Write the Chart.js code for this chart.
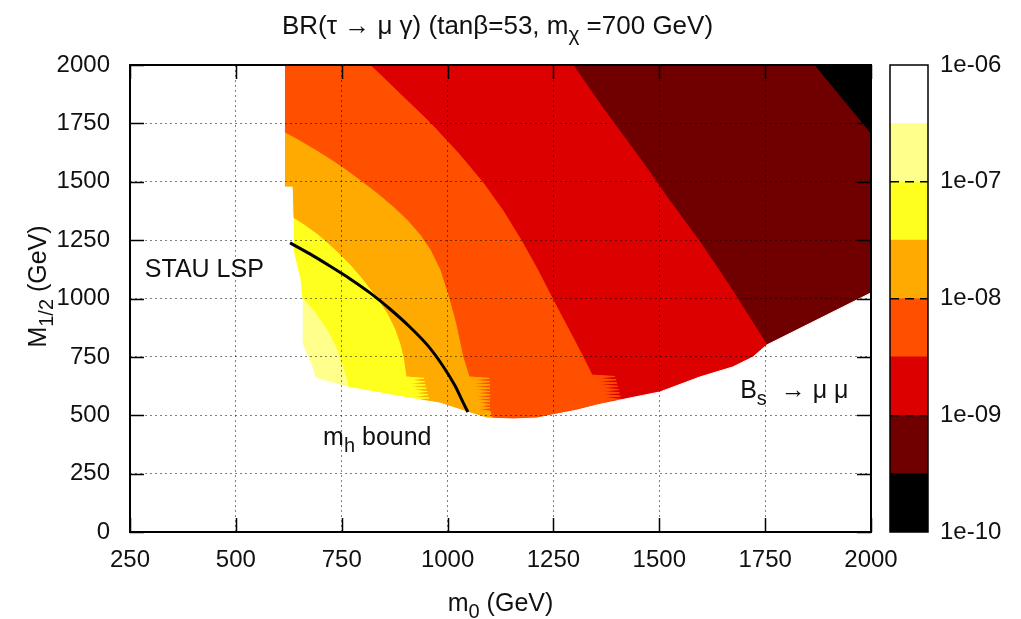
<!DOCTYPE html>
<html>
<head>
<meta charset="utf-8">
<script src="https://cdn.jsdelivr.net/npm/chart.js@4.4.1/dist/chart.umd.min.js"></script>
<style>
  html, body { margin: 0; padding: 0; background: #fff; }
  #wrap { position: relative; width: 1021px; height: 619px; }
  #main { position: absolute; left: 0; top: 0; }
  #cbar { position: absolute; left: 880px; top: 0; }
</style>
</head>
<body>
<div id="wrap">
  <canvas id="main" width="1021" height="619"></canvas>
  <canvas id="cbar" width="141" height="619"></canvas>
</div>
<script>
/* ---------- DATA ---------- */

// axis ticks (GeV)
const m0Ticks = [250, 500, 750, 1000, 1250, 1500, 1750, 2000];
const m12Ticks = [0, 250, 500, 750, 1000, 1250, 1500, 1750, 2000];

// colour bar: log10(BR) band edges
const bandLow  = [-10, -9.5, -9, -8.5, -8, -7.5, -7, -6.5];
const bandHigh = [-9.5, -9, -8.5, -8, -7.5, -7, -6.5, -6];
const cbarTickValues = [-10, -9, -8, -7, -6];
const cbarTickLabels = ['1e-10', '1e-09', '1e-08', '1e-07', '1e-06'];

// iso-BR contours, [m0, M1/2] in GeV
const contour95 = [[1868, 2000], [2000, 1709]];
const contour90 = [[1296, 2000], [1370, 1807], [1457, 1593], [1523, 1422], [1596, 1242],
                   [1669, 1045], [1754, 801], [1790, 650]];
const contour85 = [[817, 2000], [888, 1876], [959, 1752], [1025, 1623], [1084, 1495],
                   [1133, 1370], [1176, 1242], [1214, 1118], [1249, 994], [1284, 874],
                   [1320, 749], [1341, 672], [1395, 666], [1346, 659], [1398, 652],
                   [1350, 645], [1400, 638], [1353, 631], [1402, 624], [1356, 617],
                   [1404, 610], [1359, 603], [1406, 596], [1362, 589], [1408, 582],
                   [1365, 575], [1410, 568], [1368, 561], [1412, 554], [1420, 480]];
const contour80 = [[616, 1709], [647, 1679], [687, 1636], [725, 1593], [760, 1550],
                   [798, 1499], [838, 1443], [874, 1388], [904, 1336], [935, 1272],
                   [959, 1208], [982, 1122], [1003, 1002], [1020, 887], [1036, 749],
                   [1051, 664], [1098, 658], [1053, 651], [1100, 644], [1055, 637],
                   [1100, 630], [1057, 623], [1100, 616], [1059, 609], [1100, 602],
                   [1061, 595], [1100, 588], [1063, 581], [1100, 574], [1065, 567],
                   [1100, 560], [1067, 553], [1100, 546], [1069, 539], [1100, 532],
                   [1071, 525], [1100, 518], [1110, 460]];
const contour75 = [[635, 1345], [661, 1315], [694, 1272], [734, 1208], [770, 1143],
                   [800, 1079], [833, 1002], [859, 929], [876, 865], [888, 801],
                   [895, 749], [902, 664], [944, 658], [904, 651], [946, 644],
                   [906, 637], [948, 630], [908, 623], [950, 616], [910, 609],
                   [952, 602], [913, 595], [954, 588], [916, 581], [956, 574],
                   [920, 567], [960, 500]];
const contour70 = [[656, 1002], [682, 951], [715, 865], [739, 779], [753, 702],
                   [762, 651], [770, 560]];

// excluded regions: stau LSP (left) and Bs -> mu mu / mh (bottom)
const stauEdge = [[614, 2000], [614, 1477], [633, 1477], [635, 1345], [635, 1208],
                  [652, 1079], [656, 994], [656, 809], [680, 707], [687, 660]];
const bsEdge = [[762, 621], [829, 600], [895, 578], [982, 552], [1046, 514],
                [1093, 488], [1155, 484], [1211, 488], [1258, 505], [1306, 522],
                [1353, 544], [1431, 574], [1502, 600], [1596, 664], [1674, 707],
                [1721, 749], [1754, 801], [2000, 1024]];

// m_h bound curve
const mhBound = [[628, 1238], [675, 1191], [722, 1139], [770, 1084], [817, 1024],
                 [864, 955], [911, 878], [954, 797], [989, 711], [1018, 625],
                 [1036, 557], [1048, 514]];

/* ---------- STYLE ---------- */

const FONT = '"Liberation Sans", Arial, Helvetica, sans-serif';
const bandColors = ['#000000', '#700000', '#dd0000', '#ff5000', '#ffaa00',
                    '#ffff1e', '#ffff8c', '#ffffff'];

const m0Min = m0Ticks[0];
const m0Max = m0Ticks[m0Ticks.length - 1];
const m12Min = m12Ticks[0];
const m12Max = m12Ticks[m12Ticks.length - 1];

const xy = pts => pts.map(([x, y]) => ({ x, y }));

// area on the low-m0 / low-M1/2 side of a contour
function lowerLeft(c) {
    const first = c[0];
    const last = c[c.length - 1];
    return xy([...c, [last[0], m12Min], [m0Min, m12Min], [m0Min, first[1]]]);
}

const region = (data, color) => ({
    data,
    fill: 'shape',
    backgroundColor: color,
    borderColor: color,
    borderWidth: 1,
    pointRadius: 0,
    showLine: true,
    tension: 0
});

const layers = [
    region(xy([[m0Min, m12Min], [m0Max, m12Min], [m0Max, m12Max], [m0Min, m12Max]]), bandColors[1]),
    region(xy([...contour95, [m0Max, m12Max]]), bandColors[0]),
    region(lowerLeft(contour90), bandColors[2]),
    region(lowerLeft(contour85), bandColors[3]),
    region(lowerLeft(contour80), bandColors[4]),
    region(lowerLeft(contour75), bandColors[5]),
    region(lowerLeft(contour70), bandColors[6]),
    region(xy([[m0Min, m12Max], ...stauEdge, ...bsEdge, [m0Max, m12Min], [m0Min, m12Min]]), '#ffffff'),
    {
        data: xy(mhBound),
        borderColor: '#000',
        borderWidth: 3,
        pointRadius: 0,
        showLine: true,
        fill: false,
        tension: 0.2
    }
];
// first in list = bottom
layers.forEach((d, i) => { d.order = layers.length - i; });

/* ---------- TEXT ---------- */

// '_' prefix marks a subscript part
function richText(ctx, parts, x, y, size, align) {
    const isSub = p => p.startsWith('_');
    const fontOf = p => (isSub(p) ? size * 0.8 : size) + 'px ' + FONT;
    const txt = p => (isSub(p) ? p.slice(1) : p);
    const widths = parts.map(p => { ctx.font = fontOf(p); return ctx.measureText(txt(p)).width; });
    const total = widths.reduce((a, b) => a + b, 0);
    let cx = align === 'center' ? x - total / 2 : x;
    ctx.textAlign = 'left';
    ctx.textBaseline = 'alphabetic';
    parts.forEach((p, i) => {
        ctx.font = fontOf(p);
        ctx.fillText(txt(p), cx, y + (isSub(p) ? size * 0.28 : 0));
        cx += widths[i];
    });
}

const notes = [
    { parts: ['STAU LSP'], at: [285, 1094] },
    { parts: ['m', '_h', ' bound'], at: [706, 373] },
    { parts: ['B', '_s', '  \u2192 \u03bc \u03bc'], at: [1691, 574] }
];

const framePlugin = {
    id: 'frame',
    afterDraw(chart) {
        const { ctx, chartArea: a, scales: { x, y } } = chart;
        ctx.save();
        ctx.strokeStyle = '#000';
        ctx.lineWidth = 1.5;
        ctx.beginPath();
        x.ticks.forEach(t => {
            const px = Math.round(x.getPixelForValue(t.value)) + 0.5;
            ctx.moveTo(px, a.bottom); ctx.lineTo(px, a.bottom - 14);
            ctx.moveTo(px, a.top); ctx.lineTo(px, a.top + 14);
        });
        y.ticks.forEach(t => {
            const py = Math.round(y.getPixelForValue(t.value)) + 0.5;
            ctx.moveTo(a.left, py); ctx.lineTo(a.left + 14, py);
            ctx.moveTo(a.right, py); ctx.lineTo(a.right - 14, py);
        });
        ctx.stroke();
        ctx.lineWidth = 2;
        ctx.strokeRect(a.left, a.top, a.right - a.left, a.bottom - a.top);

        ctx.fillStyle = '#111';
        richText(ctx, ['BR(\u03c4 \u2192 \u03bc \u03b3) (tan\u03b2=53, m', '_\u03c7', ' =700 GeV)'],
            (a.left + a.right) / 2 - 3, 34, 26, 'center');
        richText(ctx, ['m', '_0', ' (GeV)'], (a.left + a.right) / 2, 611, 25, 'center');
        ctx.save();
        ctx.translate(46, (a.top + a.bottom) / 2 - 12);
        ctx.rotate(-Math.PI / 2);
        richText(ctx, ['M', '_1/2', ' (GeV)'], 0, 0, 25, 'center');
        ctx.restore();
        notes.forEach(n => {
            richText(ctx, n.parts, x.getPixelForValue(n.at[0]), y.getPixelForValue(n.at[1]), 25, 'left');
        });
        ctx.restore();
    }
};

/* ---------- MAIN CHART ---------- */

const tickFont = { family: FONT, size: 24 };
const gridStyle = { drawTicks: false, color: 'rgba(0,0,0,0.5)', lineWidth: 1, z: 1 };

new Chart(document.getElementById('main'), {
    type: 'scatter',
    data: { datasets: layers },
    options: {
        responsive: false,
        animation: false,
        events: [],
        layout: { padding: { top: 65, right: 150, left: 0, bottom: 0 } },
        plugins: { legend: { display: false }, tooltip: { enabled: false } },
        scales: {
            x: {
                type: 'linear', min: m0Min, max: m0Max,
                afterBuildTicks: s => { s.ticks = m0Ticks.map(v => ({ value: v })); },
                afterFit: s => { s.height = 87; },
                ticks: { padding: 14, color: '#111', font: tickFont, autoSkip: false,
                         maxRotation: 0, callback: v => String(v) },
                grid: gridStyle,
                border: { display: false, dash: [2, 3] }
            },
            y: {
                type: 'linear', min: m12Min, max: m12Max,
                afterBuildTicks: s => { s.ticks = m12Ticks.map(v => ({ value: v })); },
                afterFit: s => { s.width = 130; },
                ticks: { padding: 20, color: '#111', font: tickFont, autoSkip: false,
                         callback: v => String(v) },
                grid: gridStyle,
                border: { display: false, dash: [2, 3] }
            }
        }
    },
    plugins: [framePlugin]
});

/* ---------- COLOUR BAR ---------- */

const cbarFrame = {
    id: 'cbarFrame',
    afterDraw(chart) {
        const { ctx, chartArea: a } = chart;
        ctx.save();
        ctx.strokeStyle = '#000';
        ctx.lineWidth = 1.5;
        ctx.strokeRect(a.left, a.top, a.right - a.left, a.bottom - a.top);
        ctx.restore();
    }
};

new Chart(document.getElementById('cbar'), {
    type: 'bar',
    data: {
        labels: [''],
        datasets: bandLow.map((lo, i) => ({
            data: [[lo, bandHigh[i]]],
            backgroundColor: bandColors[i],
            borderWidth: 0,
            grouped: false,
            barPercentage: 1,
            categoryPercentage: 1
        }))
    },
    options: {
        responsive: false,
        animation: false,
        events: [],
        layout: { padding: { left: 10, top: 65, bottom: 87, right: 0 } },
        plugins: { legend: { display: false }, tooltip: { enabled: false } },
        scales: {
            x: { display: false },
            y: {
                position: 'right', min: cbarTickValues[0], max: cbarTickValues[cbarTickValues.length - 1],
                afterBuildTicks: s => { s.ticks = cbarTickValues.map(v => ({ value: v })); },
                afterFit: s => { s.width = 93; },
                ticks: { padding: 12, color: '#111', font: tickFont,
                         callback: v => cbarTickLabels[cbarTickValues.indexOf(v)] },
                grid: {
                    drawTicks: false, lineWidth: 1.5, z: 1,
                    color: c => (c.tick && c.tick.value > -10 && c.tick.value < -6) ? '#000' : 'transparent'
                },
                border: { display: false, dash: [9, 6] }
            }
        }
    },
    plugins: [cbarFrame]
});
</script>
</body>
</html>
